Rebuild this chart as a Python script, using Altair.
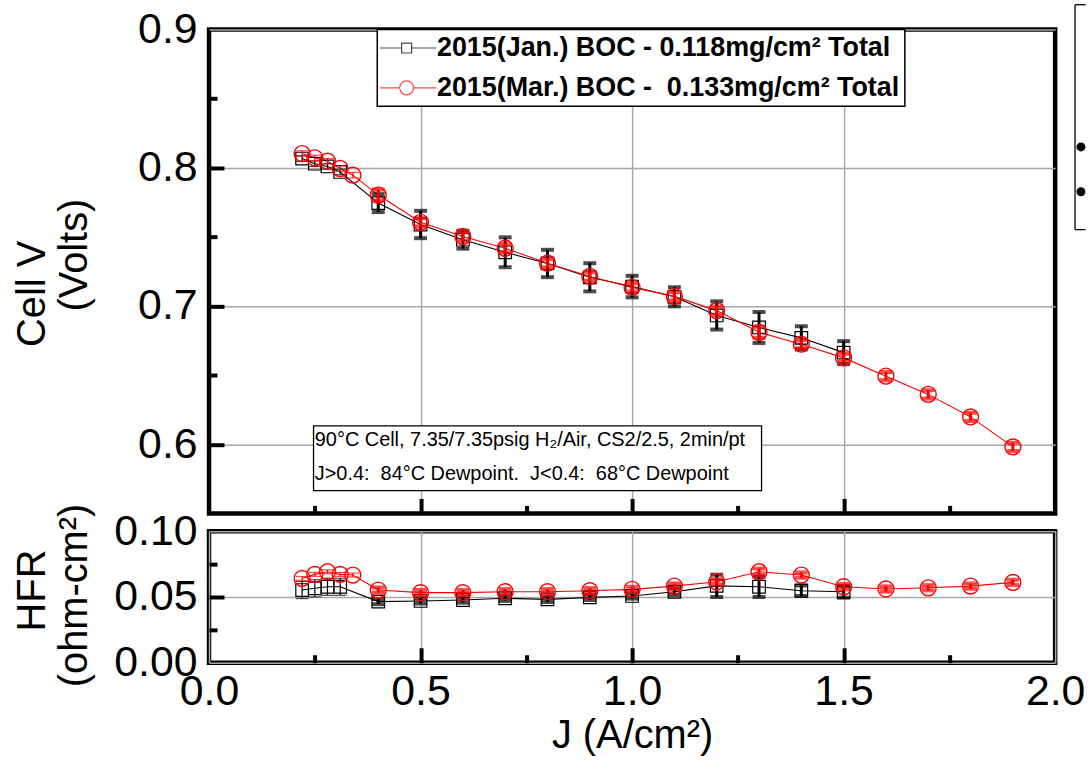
import altair as alt
import pandas as pd

FONT = "Liberation Sans"
NB = "\u00a0"

JAN = "2015(Jan.) BOC - 0.118mg/cm² Total"
MAR = "2015(Mar.) BOC -" + NB + " 0.133mg/cm² Total"

# Current density, A/cm2
j_jan = [0.22, 0.25, 0.28, 0.31, 0.40, 0.50, 0.60, 0.70, 0.80, 0.90, 1.00, 1.10, 1.20, 1.30, 1.40, 1.50]
j_mar = [0.22, 0.25, 0.28, 0.31, 0.34, 0.40, 0.50, 0.60, 0.70, 0.80, 0.90, 1.00, 1.10, 1.20, 1.30,
         1.40, 1.50, 1.60, 1.70, 1.80, 1.90]

# Cell voltage, V (mean and half-range of the repeats)
v_jan = [0.8067, 0.8030, 0.8010, 0.7970, 0.7745, 0.7590, 0.7480, 0.7389, 0.7308, 0.7208, 0.7141,
         0.7067, 0.6932, 0.6845, 0.6770, 0.6663]
v_jan_err = [0.0020, 0.0020, 0.0020, 0.0020, 0.0065, 0.0099, 0.0065, 0.0108, 0.0099, 0.0102, 0.0078,
             0.0069, 0.0102, 0.0112, 0.0084, 0.0083]
v_mar = [0.8103, 0.8072, 0.8048, 0.7995, 0.7947, 0.7803, 0.7606, 0.7503, 0.7418, 0.7310, 0.7214,
         0.7135, 0.7070, 0.6967, 0.6810, 0.6724, 0.6625, 0.6493, 0.6361, 0.6198, 0.5981]
v_mar_err = [0.0020, 0.0020, 0.0020, 0.0020, 0.0020, 0.0040, 0.0030, 0.0030, 0.0030, 0.0030, 0.0030,
             0.0030, 0.0030, 0.0030, 0.0040, 0.0030, 0.0030, 0.0030, 0.0030, 0.0030, 0.0030]

# High-frequency resistance, ohm-cm2
hfr_jan = [0.0553, 0.0566, 0.0578, 0.0578, 0.0465, 0.0470, 0.0477, 0.0490, 0.0482, 0.0497, 0.0508,
           0.0540, 0.0585, 0.0578, 0.0548, 0.0540]
hfr_jan_err = [0.0065, 0.0065, 0.0065, 0.0065, 0.0020, 0.0020, 0.0020, 0.0020, 0.0020, 0.0020, 0.0020,
               0.0025, 0.0085, 0.0078, 0.0040, 0.0045]
hfr_mar = [0.0641, 0.0672, 0.0692, 0.0672, 0.0667, 0.0553, 0.0533, 0.0533, 0.0540, 0.0540, 0.0548,
           0.0558, 0.0583, 0.0616, 0.0692, 0.0667, 0.0578, 0.0561, 0.0570, 0.0583, 0.0611]
hfr_mar_err = [0.0015, 0.0015, 0.0015, 0.0015, 0.0015, 0.0020, 0.0020, 0.0020, 0.0020, 0.0020, 0.0020,
               0.0020, 0.0020, 0.0020, 0.0025, 0.0020, 0.0020, 0.0020, 0.0020, 0.0020, 0.0020]

NOTE_LINES = ["90°C Cell, 7.35/7.35psig H₂/Air, CS2/2.5, 2min/pt",
              "J>0.4:" + NB + " 84°C Dewpoint." + NB + " J<0.4:" + NB + " 68°C Dewpoint"]
NOTE_J = [0.25, 0.25]
NOTE_V = [0.6032, 0.5787]
NOTE_BOX = {"j0": [0.247], "j1": [1.306], "v0": [0.5664], "v1": [0.6133]}

# Edge of a neighbouring key box at the right margin
SIDE_BOX_J = [2.047, 2.072]
SIDE_BOX_V = [0.7553, 0.918]
SIDE_DOT_J = [2.061, 2.061]
SIDE_DOT_V = [0.8151, 0.7827]

# Legend glyphs: line - marker - line
PATH_SQUARE = "M-2,0H0.75M2,0H5.1M0.75,-0.625H2V0.625H0.75Z"
PATH_CIRCLE = ("M-2,0H0.5M2.25,0H5.1M0.5,0A0.875,0.875 0 1,0 2.25,0"
               "A0.875,0.875 0 1,0 0.5,0Z")


def frame(j, y, err):
    return pd.DataFrame({
        "J": j, "y": y,
        "lo": [a - e for a, e in zip(y, err)],
        "hi": [a + e for a, e in zip(y, err)],
    })


XS = alt.Scale(domain=[0, 2], nice=False, zero=False)


def tick_axis(orient, values, size, **kw):
    opts = dict(orient=orient, offset=-size, values=values, tickSize=size, tickWidth=4,
                tickColor="black", labels=False, domain=False, grid=False, title=None)
    opts.update(kw)
    return alt.Axis(**opts)


def panel(jan, mar, ys, y_axis, x_axis, y_major, y_minor, sub_title, extra=None):
    x_plain = alt.X("J:Q", scale=XS, axis=None)
    y_plain = alt.Y("y:Q", scale=ys, axis=None)

    axes = alt.Chart(mar).mark_point(opacity=0).encode(
        x=alt.X("J:Q", scale=XS, axis=x_axis),
        y=alt.Y("y:Q", scale=ys, axis=y_axis),
    )
    major = alt.Chart(mar).mark_point(opacity=0).encode(
        x=alt.X("J:Q", scale=XS, axis=tick_axis("bottom", [0.5, 1.0, 1.5], 15)),
        y=alt.Y("y:Q", scale=ys, axis=tick_axis("left", y_major, 15, **sub_title)),
    )
    minor = alt.Chart(mar).mark_point(opacity=0).encode(
        x=alt.X("J:Q", scale=XS, axis=tick_axis("bottom", [0.25, 0.75, 1.25, 1.75], 8)),
        y=alt.Y("y:Q", scale=ys, axis=tick_axis("left", y_minor, 8)),
    )

    def bars(df, color, thin):
        cond = "datum.J < 0.35" if thin else "datum.J >= 0.35"
        width = 1.2 if thin else 3
        cap = 1.2 if thin else 4
        base = alt.Chart(df).transform_filter(cond)
        rule = base.mark_rule(color=color, strokeWidth=width).encode(
            x=x_plain, y=alt.Y("lo:Q", scale=ys, axis=None), y2="hi:Q")
        lo = base.mark_tick(color=color, orient="horizontal", size=13, thickness=cap).encode(
            x=x_plain, y=alt.Y("lo:Q", scale=ys, axis=None))
        hi = base.mark_tick(color=color, orient="horizontal", size=13, thickness=cap).encode(
            x=x_plain, y=alt.Y("hi:Q", scale=ys, axis=None))
        return [rule, lo, hi]

    line_jan = alt.Chart(jan).mark_line(color="black", strokeWidth=1.1).encode(x=x_plain, y=y_plain)
    line_mar = alt.Chart(mar).mark_line(color="red", strokeWidth=1.1).encode(x=x_plain, y=y_plain)
    pts_jan = alt.Chart(jan).mark_point(shape="square", size=160, filled=False, color="black",
                                        strokeWidth=1.2, opacity=1).encode(x=x_plain, y=y_plain)
    pts_mar = alt.Chart(mar).mark_point(shape="circle", size=256, filled=False, color="red",
                                        strokeWidth=1.4, opacity=1).encode(x=x_plain, y=y_plain)

    layers = [axes, major, minor, line_jan, line_mar]
    layers += bars(jan, "black", True) + bars(jan, "black", False)
    layers += [pts_jan]
    layers += bars(mar, "red", True) + bars(mar, "red", False)
    layers += [pts_mar]
    if extra:
        layers += extra
    return alt.layer(*layers).resolve_axis(x="independent", y="independent")


TITLE_STYLE = dict(titleFont=FONT, titleFontSize=40, titleColor="black", titleFontWeight="normal",
                   titleBaseline="middle", titleAlign="center", titleAngle=270)

# ---- polarization curve panel ----
YS_V = alt.Scale(domain=[0.55, 0.9], nice=False, zero=False)

legend = alt.Legend(
    orient="none", legendX=169, legendY=0, direction="vertical", title=None,
    labelFont=FONT, labelFontSize=27, labelFontWeight="bold", labelColor="black",
    labelLimit=0, labelOffset=28, symbolSize=256, symbolStrokeWidth=1.2,
    padding=5, rowPadding=12, strokeColor="black", fillColor="white",
)
legend_layer = alt.Chart(pd.DataFrame({"series": [JAN, MAR]})).mark_point(filled=False).encode(
    color=alt.Color("series:N", scale=alt.Scale(domain=[JAN, MAR], range=["black", "red"]), legend=legend),
    shape=alt.Shape("series:N", scale=alt.Scale(domain=[JAN, MAR], range=[PATH_SQUARE, PATH_CIRCLE]),
                    legend=legend),
).transform_filter("false")

note_box = alt.Chart(pd.DataFrame(NOTE_BOX)).mark_rect(fill="white", stroke="black", strokeWidth=1.3).encode(
    x=alt.X("j0:Q", scale=XS, axis=None), x2="j1:Q",
    y=alt.Y("v0:Q", scale=YS_V, axis=None), y2="v1:Q",
)
note_text = alt.Chart(pd.DataFrame({"J": NOTE_J, "y": NOTE_V, "t": NOTE_LINES})).mark_text(
    align="left", baseline="middle", font=FONT, fontSize=20, color="black",
).encode(x=alt.X("J:Q", scale=XS, axis=None), y=alt.Y("y:Q", scale=YS_V, axis=None), text="t:N")

side_df = pd.DataFrame({"j0": [SIDE_BOX_J[0], SIDE_BOX_J[0], SIDE_BOX_J[0]],
                        "j1": [SIDE_BOX_J[1], SIDE_BOX_J[1], SIDE_BOX_J[0]],
                        "v0": [SIDE_BOX_V[1], SIDE_BOX_V[0], SIDE_BOX_V[0]],
                        "v1": [SIDE_BOX_V[1], SIDE_BOX_V[0], SIDE_BOX_V[1]]})
side_box = alt.Chart(side_df).mark_rule(color="black", strokeWidth=1.3, clip=False).encode(
    x=alt.X("j0:Q", scale=XS, axis=None), x2="j1:Q",
    y=alt.Y("v0:Q", scale=YS_V, axis=None), y2="v1:Q",
)
side_dots = alt.Chart(pd.DataFrame({"J": SIDE_DOT_J, "y": SIDE_DOT_V})).mark_point(
    shape="circle", filled=True, color="black", size=80, opacity=1, clip=False,
).encode(x=alt.X("J:Q", scale=XS, axis=None), y=alt.Y("y:Q", scale=YS_V, axis=None))

top = panel(
    frame(j_jan, v_jan, v_jan_err), frame(j_mar, v_mar, v_mar_err), YS_V,
    y_axis=alt.Axis(orient="left", values=[0.6, 0.7, 0.8, 0.9], format=".1f", ticks=False,
                    domain=False, grid=True, labelPadding=12, title="Cell V",
                    titleX=-177, titleY=265, **TITLE_STYLE),
    x_axis=alt.Axis(orient="bottom", values=[0.5, 1.0, 1.5], labels=False, ticks=False,
                    domain=False, grid=True, title=None),
    y_major=[0.6, 0.7, 0.8], y_minor=[0.65, 0.75, 0.85],
    sub_title=dict(title="(Volts)", titleX=-150, titleY=226, **TITLE_STYLE),
    extra=[note_box, note_text, side_box, side_dots, legend_layer],
).properties(width=850, height=486)

# ---- HFR panel ----
YS_H = alt.Scale(domain=[0, 0.1], nice=False, zero=False)
bottom = panel(
    frame(j_jan, hfr_jan, hfr_jan_err), frame(j_mar, hfr_mar, hfr_mar_err), YS_H,
    y_axis=alt.Axis(orient="left", values=[0.0, 0.05, 0.1], format=".2f", ticks=False,
                    domain=False, grid=True, labelPadding=12, title="HFR",
                    titleX=-177, titleY=59, **TITLE_STYLE),
    x_axis=alt.Axis(orient="bottom", values=[0.0, 0.5, 1.0, 1.5, 2.0], format=".1f", ticks=False,
                    domain=False, grid=True, labelPadding=8, labelFlush=False,
                    title="J (A/cm²)", titlePadding=2),
    y_major=[0.05], y_minor=[0.025, 0.075],
    sub_title=dict(title="(ohm-cm²)", titleX=-150, titleY=64, **TITLE_STYLE),
).properties(width=850, height=132)

chart = alt.vconcat(top, bottom, spacing=18, bounds="flush").configure_view(
    stroke="black", strokeWidth=4.5,
).configure_axis(
    labelFont=FONT, titleFont=FONT, labelFontSize=43, titleFontSize=40,
    labelColor="black", titleColor="black", titleFontWeight="normal",
    gridColor="#a8a8a8", gridWidth=1.5,
).configure_legend(strokeWidth=1.5).properties(
    padding={"left": 10, "top": 0, "right": 0, "bottom": 0},
    background="white",
)

chart.save("out.html", embed_options={"renderer": "svg", "actions": False})
